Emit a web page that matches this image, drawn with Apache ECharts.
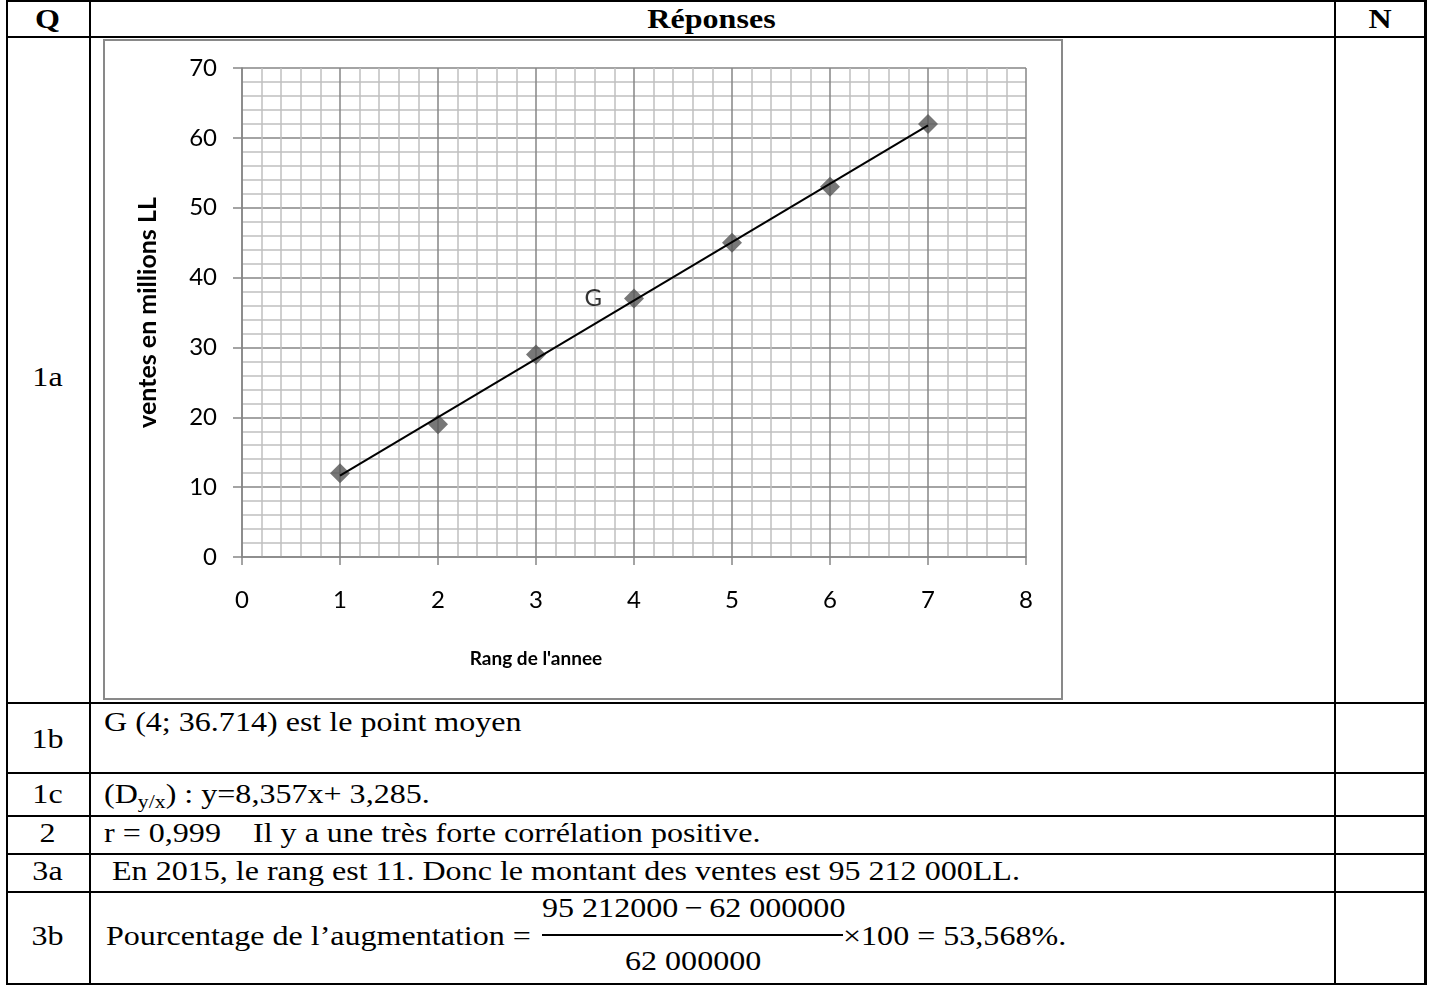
<!DOCTYPE html>
<html>
<head>
<meta charset="utf-8">
<script src="https://cdn.jsdelivr.net/npm/echarts@6/dist/echarts.min.js"></script>
<style>
  html, body { margin: 0; padding: 0; background: #fff; }
  #page { position: relative; width: 1438px; height: 986px; overflow: hidden; }
  .h { position: absolute; height: 2px; background: #000; }
  .v { position: absolute; width: 2px; background: #000; }
  .t { position: absolute; font-family: 'Liberation Serif', 'Times New Roman', serif; font-size: 28px;
       line-height: 30px; white-space: nowrap; color: #000; transform: scaleX(1.145); transform-origin: 0 50%; }
  .c { text-align: center; transform-origin: 50% 50%; }
  .b { font-weight: bold; }
  #chartBox { position: absolute; left: 103px; top: 39px; width: 960px; height: 661px;
              box-sizing: border-box; border: 2px solid #898989; }
  #graph { width: 956px; height: 657px; }
  sub { font-size: 19px; vertical-align: -5px; line-height: 0; }
</style>
</head>
<body>
<div id="page">
  <!-- lignes du tableau -->
  <div class="h" style="left:6px;top:0px;width:1421px;"></div>
  <div class="h" style="left:6px;top:36px;width:1421px;"></div>
  <div class="h" style="left:6px;top:702px;width:1421px;"></div>
  <div class="h" style="left:6px;top:772px;width:1421px;"></div>
  <div class="h" style="left:6px;top:815px;width:1421px;"></div>
  <div class="h" style="left:6px;top:853px;width:1421px;"></div>
  <div class="h" style="left:6px;top:891px;width:1421px;"></div>
  <div class="h" style="left:6px;top:983px;width:1421px;"></div>
  <div class="v" style="left:6px;top:0px;height:985px;"></div>
  <div class="v" style="left:89px;top:0px;height:985px;"></div>
  <div class="v" style="left:1334px;top:0px;height:985px;"></div>
  <div class="v" style="left:1424px;top:0px;height:985px;width:3px;"></div>

  <!-- en-tête -->
  <div class="t c b" style="left:6px;width:83px;top:4px;">Q</div>
  <div class="t c b" style="left:89px;width:1245px;top:4px;">Réponses</div>
  <div class="t c b" style="left:1335px;width:90px;top:4px;">N</div>

  <!-- colonne Q -->
  <div class="t c" style="left:6px;width:83px;top:362px;">1a</div>
  <div class="t c" style="left:6px;width:83px;top:724px;">1b</div>
  <div class="t c" style="left:6px;width:83px;top:779px;">1c</div>
  <div class="t c" style="left:6px;width:83px;top:818px;">2</div>
  <div class="t c" style="left:6px;width:83px;top:856px;">3a</div>
  <div class="t c" style="left:6px;width:83px;top:921px;">3b</div>

  <!-- réponses -->
  <div class="t" style="left:104px;top:707px;">G (4; 36.714) est le point moyen</div>
  <div class="t" style="left:104px;top:779px;">(D<sub>y/x</sub>) : y=8,357x+ 3,285.</div>
  <div class="t" style="left:104px;top:818px;">r = 0,999&nbsp;&nbsp;&nbsp; Il y a une très forte corrélation positive.</div>
  <div class="t" style="left:104px;top:856px;">&nbsp;En 2015, le rang est 11. Donc le montant des ventes est 95 212 000LL.</div>
  <div class="t" style="left:106px;top:921px;">Pourcentage de l’augmentation =</div>
  <div class="t" style="left:542px;top:893px;">95&nbsp;212000&#8201;−&#8201;62&nbsp;000000</div>
  <div style="position:absolute;left:542px;top:934px;width:301px;height:2px;background:#000;"></div>
  <div class="t" style="left:625px;top:946px;">62&nbsp;000000</div>
  <div class="t" style="left:843px;top:921px;">×100 = 53,568%.</div>

  <div id="chartBox"><div id="graph"></div></div>
</div>

<script>
// données
var rangs = [1, 2, 3, 4, 5, 6, 7];
var ventes = [12, 19, 29, 37, 45, 53, 62];
// droite de régression y = 8,357x + 3,285 tracée de x=1 à x=7
var droiteX = [1, 7];
var droiteY = [11.642, 61.784];
var xMin = 0, xMax = 8, xPas = 1;
var yMin = 0, yMax = 70, yPas = 10;
var pointMoyen = 'G';

function render_chart(divId) {
    var dom = document.getElementById(divId);
    var myChart = echarts.init(dom);

    var points = rangs.map(function (r, i) {
        var item = { value: [r, ventes[i]] };
        if (r === 4) {
            item.label = {
                show: true, formatter: pointMoyen, position: 'left', distance: 22,
                fontFamily: 'Lato', fontSize: 24, color: '#000'
            };
        }
        return item;
    });
    var droite = droiteX.map(function (x, i) {
        return [x, droiteY[i]];
    });

    var gris = '#868686';
    var grisClair = '#c0c0c0';

    var option = {
        animation: false,
        grid: { left: 137, top: 27, width: 784, height: 489 },
        xAxis: {
            type: 'value', min: xMin, max: xMax, interval: xPas,
            name: "Rang de l'annee",
            nameLocation: 'middle',
            nameGap: 92,
            nameTextStyle: {
                fontFamily: 'Lato', fontWeight: 'bold', fontSize: 19, color: '#000',
                padding: [0, 196, 0, 0]
            },
            axisLine: { show: true, onZero: false, lineStyle: { color: gris, width: 1.5 } },
            axisTick: { show: true, length: 8, lineStyle: { color: gris, width: 1.5 } },
            axisLabel: { margin: 31, fontFamily: 'Lato', fontSize: 24, color: '#000' },
            splitLine: { show: true, lineStyle: { color: gris, width: 1.5 } },
            minorTick: { show: false, splitNumber: 5 },
            minorSplitLine: { show: true, lineStyle: { color: grisClair, width: 1.5 } }
        },
        yAxis: {
            type: 'value', min: yMin, max: yMax, interval: yPas,
            name: 'ventes en millions LL',
            nameLocation: 'middle',
            nameGap: 82,
            nameTextStyle: { fontFamily: 'Lato', fontWeight: 'bold', fontSize: 25, color: '#000' },
            axisLine: { show: true, onZero: false, lineStyle: { color: gris, width: 1.5 } },
            axisTick: { show: true, length: 9, lineStyle: { color: gris, width: 1.5 } },
            axisLabel: { margin: 25, fontFamily: 'Lato', fontSize: 24, color: '#000' },
            splitLine: { show: true, lineStyle: { color: gris, width: 1.5 } },
            minorTick: { show: false, splitNumber: 5 },
            minorSplitLine: { show: true, lineStyle: { color: grisClair, width: 1.5 } }
        },
        series: [
            {
                type: 'scatter',
                data: points,
                symbol: 'diamond',
                symbolSize: 20,
                itemStyle: { color: '#555555' },
                z: 2
            },
            {
                type: 'line',
                data: droite,
                showSymbol: false,
                symbol: 'none',
                lineStyle: { color: '#000', width: 2 },
                z: 3
            }
        ]
    };
    myChart.setOption(option);
}

render_chart('graph');
</script>
</body>
</html>
